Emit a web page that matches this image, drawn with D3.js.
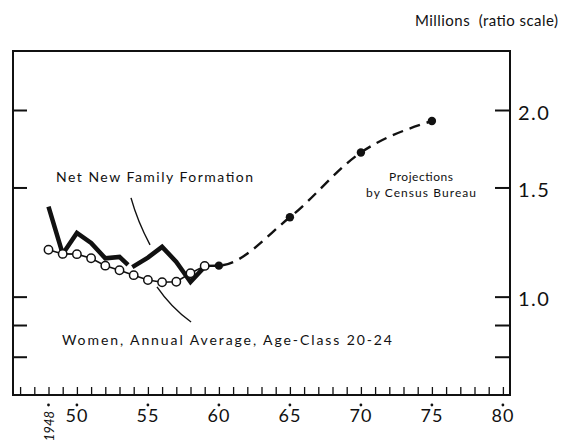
<!DOCTYPE html>
<html>
<head>
<meta charset="utf-8">
<script src="https://cdn.jsdelivr.net/npm/d3@7"></script>
<style>
  body { margin: 0; background: #fff; }
  text { font-family: "Lato", "DejaVu Sans", sans-serif; fill: #111; }
</style>
</head>
<body>
<div id="chart"></div>
<script>
// data (millions, ratio scale)
const womenYears = [1948, 1949, 1950, 1951, 1952, 1953, 1954, 1955, 1956, 1957, 1958, 1959];
const womenValues = [1.19, 1.172, 1.171, 1.153, 1.122, 1.103, 1.083, 1.064, 1.055, 1.057, 1.091, 1.121];

// net new family formation, drawn in two pieces (break in the series)
const familyYearsA = [1948, 1949, 1950, 1951, 1952, 1953, 1953.6];
const familyValuesA = [1.397, 1.172, 1.267, 1.221, 1.153, 1.159, 1.125];
const familyYearsB = [1953.9, 1955, 1956, 1957, 1958, 1959];
const familyValuesB = [1.116, 1.156, 1.203, 1.138, 1.056, 1.118];

// census bureau projections
const projYears = [1960, 1965, 1970, 1975];
const projValues = [1.122, 1.343, 1.708, 1.92];

const yTickValues = [0.8, 0.9, 1.0, 1.5, 2.0];
const yTickLabels = {"1": "1.0", "1.5": "1.5", "2": "2.0"};
const xLabelYears = [1950, 1955, 1960, 1965, 1970, 1975, 1980];

// set the dimensions
const W = 564, H = 444;
const frame = {left: 13, right: 510, top: 51, bottom: 395};

let svg = d3.select("#chart")
  .append("svg")
    .attr("width", W)
    .attr("height", H);

let x = d3.scaleLinear()
  .domain([1945.5, 1980.5])
  .range([frame.left, frame.right]);

let y = d3.scaleLog()
  .domain([0.694, 2.49])
  .range([frame.bottom, frame.top]);

// frame
svg.append("rect")
  .attr("x", frame.left)
  .attr("y", frame.top)
  .attr("width", frame.right - frame.left)
  .attr("height", frame.bottom - frame.top)
  .attr("fill", "none")
  .attr("stroke", "#111")
  .attr("stroke-width", 2);

// right axis: ticks point inward, labels outside
let yRight = svg.append("g")
  .attr("transform", "translate(" + frame.right + ",0)")
  .call(d3.axisRight(y)
    .tickValues(yTickValues)
    .tickSize(-15)
    .tickPadding(8)
    .tickFormat(d => yTickLabels[String(d)] || ""));
yRight.select(".domain").remove();
yRight.selectAll("line").attr("stroke", "#111").attr("stroke-width", 2);
yRight.selectAll("text")
  .style("font-size", "20px")
  .style("letter-spacing", "1.5px")
  .attr("dy", "0.45em");

// left side ticks
let yLeft = svg.append("g")
  .attr("transform", "translate(" + frame.left + ",0)")
  .call(d3.axisLeft(y).tickValues(yTickValues).tickSize(-14).tickFormat(""));
yLeft.select(".domain").remove();
yLeft.selectAll("line").attr("stroke", "#111").attr("stroke-width", 2);

// bottom: a tick every year
let xAxis = svg.append("g")
  .attr("transform", "translate(0," + frame.bottom + ")")
  .call(d3.axisBottom(x).tickValues(d3.range(1946, 1981)).tickSize(-8).tickFormat(""));
xAxis.select(".domain").remove();
xAxis.selectAll("line").attr("stroke", "#111").attr("stroke-width", 1.3);

// dots and year labels
svg.append("g").selectAll("circle")
  .data([1948].concat(xLabelYears))
  .enter().append("circle")
    .attr("cx", d => x(d))
    .attr("cy", frame.bottom + 10)
    .attr("r", 1.4)
    .attr("fill", "#111");

svg.append("g").selectAll("text")
  .data(xLabelYears)
  .enter().append("text")
    .attr("x", d => x(d))
    .attr("y", frame.bottom + 27)
    .attr("text-anchor", "middle")
    .style("font-size", "18px")
    .style("letter-spacing", "1px")
    .text(d => String(d).slice(2));

svg.append("text")
  .attr("transform", "translate(" + (x(1948) + 5) + "," + (frame.bottom + 16) + ") rotate(-90)")
  .attr("text-anchor", "end")
  .style("font-size", "13px")
  .style("font-style", "italic")
  .text("1948");

// lines
let line = d3.line()
  .x(d => x(d[0]))
  .y(d => y(d[1]));

// projection, dashed, starting from the last women value
let projPts = [[womenYears[womenYears.length - 1], womenValues[womenValues.length - 1]]]
  .concat(projYears.map((d, i) => [d, projValues[i]]));
svg.append("path")
  .attr("d", line.curve(d3.curveMonotoneX)(projPts))
  .attr("fill", "none")
  .attr("stroke", "#111")
  .attr("stroke-width", 2.4)
  .attr("stroke-dasharray", "11,7");
line.curve(d3.curveLinear);

// family formation, thick
[[familyYearsA, familyValuesA], [familyYearsB, familyValuesB]].forEach(function(s) {
  svg.append("path")
    .attr("d", line(s[0].map((d, i) => [d, s[1][i]])))
    .attr("fill", "none")
    .attr("stroke", "#111")
    .attr("stroke-width", 4.5)
    .attr("stroke-linejoin", "miter");
});

// women, thin line with open circles
let womenPts = womenYears.map((d, i) => [d, womenValues[i]]);
svg.append("path")
  .attr("d", line(womenPts))
  .attr("fill", "none")
  .attr("stroke", "#111")
  .attr("stroke-width", 1.6);
svg.append("g").selectAll("circle")
  .data(womenPts)
  .enter().append("circle")
    .attr("cx", d => x(d[0]))
    .attr("cy", d => y(d[1]))
    .attr("r", 4.2)
    .attr("fill", "#fff")
    .attr("stroke", "#111")
    .attr("stroke-width", 1.5);

// projection dots
svg.append("g").selectAll("circle")
  .data(projYears)
  .enter().append("circle")
    .attr("cx", d => x(d))
    .attr("cy", (d, i) => y(projValues[i]))
    .attr("r", 4.2)
    .attr("fill", "#111");

// leader lines (in data units)
function leader(a, b, bend) {
  let x0 = x(a[0]), y0 = y(a[1]), x1 = x(b[0]), y1 = y(b[1]);
  let mx = (x0 + x1) / 2 + bend[0], my = (y0 + y1) / 2 + bend[1];
  svg.append("path")
    .attr("d", "M" + x0 + "," + y0 + "Q" + mx + "," + my + " " + x1 + "," + y1)
    .attr("fill", "none")
    .attr("stroke", "#111")
    .attr("stroke-width", 1.4);
}
leader([1953.81, 1.443], [1955.15, 1.212], [-3, 0]);
leader([1955.64, 1.037], [1958.04, 0.910], [-3, 3]);

// labels, stretched to the widths of the original lettering
function label(tx, ty, size, len, str, anchor) {
  svg.append("text")
    .attr("x", tx).attr("y", ty)
    .attr("text-anchor", anchor || "start")
    .attr("textLength", len)
    .attr("lengthAdjust", "spacing")
    .style("font-size", size + "px")
    .style("white-space", "pre")
    .text(str);
}
label(56, 182, 14, 197, "Net New Family Formation");
label(62, 345, 14, 330, "Women, Annual Average, Age-Class 20-24");
label(421, 181, 12, 64, "Projections", "middle");
label(421, 197, 12, 110, "by Census Bureau", "middle");
label(415, 26, 15, 143, "Millions  (ratio scale)");
</script>
</body>
</html>
